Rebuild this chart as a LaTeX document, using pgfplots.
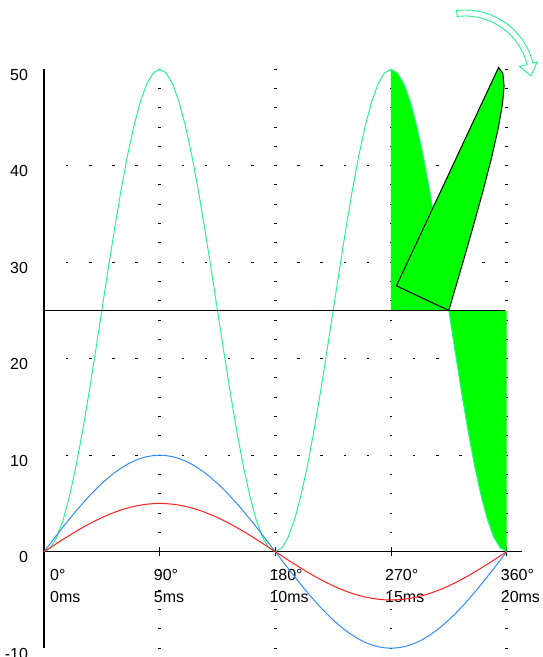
\documentclass[border=0pt]{standalone}
\usepackage{fontspec}
\setmainfont{Liberation Sans}
\usepackage{pgfplots}
\usepackage{pgfplotstable}
\pgfplotsset{compat=1.18}
\definecolor{cgreen}{RGB}{40,245,140}
\definecolor{cblue}{RGB}{50,140,255}
\definecolor{cred}{RGB}{255,30,30}
\definecolor{gfill}{RGB}{0,255,0}
\pgfplotstableread{
x g b r
0 0 0 0
5 0.380 0.872 0.436
10 1.508 1.736 0.868
15 3.349 2.588 1.294
20 5.849 3.420 1.710
25 8.930 4.226 2.113
30 12.500 5.000 2.500
35 16.450 5.736 2.868
40 20.659 6.428 3.214
45 25.000 7.071 3.536
50 29.341 7.660 3.830
55 33.551 8.192 4.096
60 37.500 8.660 4.330
65 41.070 9.063 4.532
70 44.151 9.397 4.698
75 46.651 9.659 4.830
80 48.492 9.848 4.924
85 49.620 9.962 4.981
90 50.000 10.000 5.000
95 49.620 9.962 4.981
100 48.492 9.848 4.924
105 46.651 9.659 4.830
110 44.151 9.397 4.698
115 41.070 9.063 4.532
120 37.500 8.660 4.330
125 33.551 8.192 4.096
130 29.341 7.660 3.830
135 25.000 7.071 3.536
140 20.659 6.428 3.214
145 16.450 5.736 2.868
150 12.500 5.000 2.500
155 8.930 4.226 2.113
160 5.849 3.420 1.710
165 3.349 2.588 1.294
170 1.508 1.736 0.868
175 0.380 0.872 0.436
180 0 0 0
185 0.380 -0.872 -0.436
190 1.508 -1.736 -0.868
195 3.349 -2.588 -1.294
200 5.849 -3.420 -1.710
205 8.930 -4.226 -2.113
210 12.500 -5.000 -2.500
215 16.450 -5.736 -2.868
220 20.659 -6.428 -3.214
225 25.000 -7.071 -3.536
230 29.341 -7.660 -3.830
235 33.551 -8.192 -4.096
240 37.500 -8.660 -4.330
245 41.070 -9.063 -4.532
250 44.151 -9.397 -4.698
255 46.651 -9.659 -4.830
260 48.492 -9.848 -4.924
265 49.620 -9.962 -4.981
270 50.000 -10.000 -5.000
275 49.620 -9.962 -4.981
280 48.492 -9.848 -4.924
285 46.651 -9.659 -4.830
290 44.151 -9.397 -4.698
295 41.070 -9.063 -4.532
300 37.500 -8.660 -4.330
305 33.551 -8.192 -4.096
310 29.341 -7.660 -3.830
315 25.000 -7.071 -3.536
320 20.659 -6.428 -3.214
325 16.450 -5.736 -2.868
330 12.500 -5.000 -2.500
335 8.930 -4.226 -2.113
340 5.849 -3.420 -1.710
345 3.349 -2.588 -1.294
350 1.508 -1.736 -0.868
355 0.380 -0.872 -0.436
360 0 0 0
}\wave
\begin{document}
\begin{tikzpicture}
\path[use as bounding box] (-44pt,-8.8pt) rectangle (498pt,648.2pt);
\clip (-44pt,-8.8pt) rectangle (498pt,648.2pt);
\begin{axis}[
  at={(0pt,0pt)}, anchor=south west,
  scale only axis, width=477.7pt, height=579pt,
  xmin=0, xmax=371.7, ymin=-10, ymax=50,
  axis lines=middle, clip=false,
  axis line style={-},
  x axis line style={-, line width=0.9pt},
  y axis line style={-, line width=2pt},
  xtick={0,90,180,270,360},
  xticklabels={{\hspace*{12pt}0°\\\hspace*{12pt}0ms},{90°\\5ms},{180°\\10ms},{270°\\15ms},{360°\\20ms}},
  ytick={-10,0,10,20,30,40,50},
  yticklabels={-10,0,10,20,30,40,50},
  tick align=center, major tick length=9pt,
  xtick style={line width=0.9pt, black},
  ytick style={draw=none},
  xticklabel style={anchor=north west, inner sep=0pt, xshift=-6pt, yshift=-13pt, align=left, font=\fontsize{16}{22}\selectfont},
  yticklabel style={anchor=east, inner sep=0pt, xshift=-11.3pt, yshift=-5.5pt, font=\fontsize{16}{19}\selectfont},
  hide obscured x ticks=false, hide obscured y ticks=false,
]
% grid
\pgfplotsinvokeforeach{10,20,30,40}{
  \addplot[forget plot, black, line width=1.2pt, dash pattern=on 2.5pt off 20.64pt, dash phase=1.25pt] coordinates {(0,#1) (360,#1)};
}
\pgfplotsinvokeforeach{90,180,270,360}{
  \addplot[forget plot, black, line width=2.6pt, dash pattern=on 1pt off 18.3pt, dash phase=0.5pt] coordinates {(#1,-10) (#1,50)};
}
% fill between curve and mean
\addplot[fill=gfill, draw=none] coordinates {(270,25) (270,50) (275,49.620) (280,48.492) (285,46.651) (290,44.151) (295,41.070) (300,37.500) (305,33.551) (310,29.341) (315,25) (320,20.659) (325,16.450) (330,12.5) (335,8.930) (340,5.849) (345,3.349) (350,1.508) (355,0.380) (360,0) (360,25)} -- cycle;
% curves
\addplot[cgreen, line width=1pt] table[x=x, y=g] {\wave};
\addplot[cblue, line width=1pt] table[x=x, y=b] {\wave};
\addplot[cred, line width=1pt] table[x=x, y=r] {\wave};
% mean line
\addplot[black, line width=1.7pt] coordinates {(0,25) (359,25)};
% rotated copy
\addplot[fill=gfill, draw=black, line width=1pt] coordinates {(315,25) (319.67,27.12) (324.27,29.21) (328.78,31.28) (333.13,33.31) (341.17,37.17) (347.99,40.68) (353.26,43.76) (356.68,46.30) (358.00,48.25) (357.07,49.56) (353.75,50.19) (274.25,27.55)} -- cycle;
\end{axis}
\begin{scope}[shift={(421pt,568.2pt)}]
\draw[cgreen, fill=white, line width=0.9pt, line join=miter] (97:70pt) arc[start angle=97, end angle=14, radius=70pt] -- (14:74.4pt) -- (3.5:66pt) -- (14:56.2pt) -- (14:64pt) arc[start angle=14, end angle=97, radius=64pt] -- cycle;
\end{scope}
\end{tikzpicture}
\end{document}
